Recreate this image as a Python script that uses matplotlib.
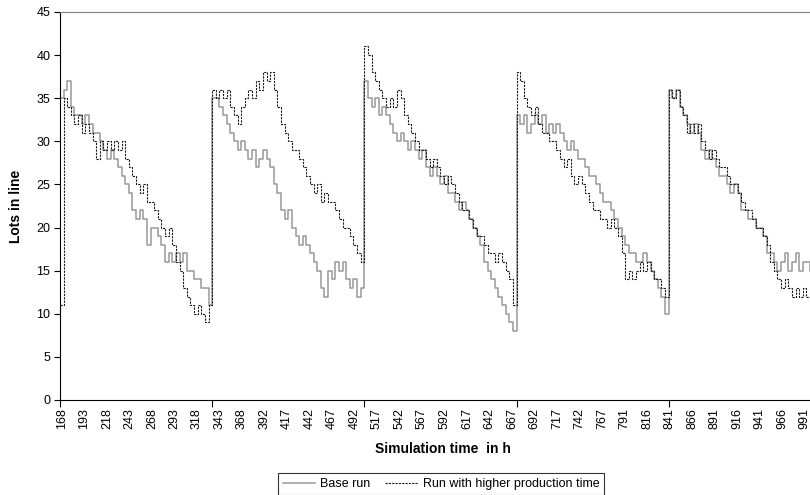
import numpy as np
import matplotlib
matplotlib.use("Agg")
import matplotlib.pyplot as plt

plt.rcParams['font.family'] = ['Liberation Sans', 'DejaVu Sans']

# ---- data (values read every 4 simulation hours, per weekly cycle) ----
step = 4
cycle_starts = [0, 168, 336, 504, 672]   # category index where each weekly cycle begins

base_c1 = [35, 36, 37, 34, 33, 33, 32, 33, 32, 31, 31, 30, 29, 28, 29, 28, 27, 26, 25, 24, 22,
           21, 22, 21, 18, 20, 20, 19, 18, 16, 17, 16, 17, 16, 17, 15, 15, 14, 14, 13, 13, 11]
base_c2 = [35, 35, 34, 33, 32, 31, 30, 29, 30, 29, 28, 29, 27, 28, 29, 28, 27, 25, 24, 22, 21,
           22, 20, 19, 18, 19, 18, 17, 16, 15, 13, 12, 15, 14, 16, 15, 16, 14, 13, 14, 12, 13]
base_c3 = [37, 35, 34, 35, 33, 34, 33, 32, 31, 30, 31, 30, 29, 30, 29, 28, 29, 27, 26, 27, 26,
           25, 26, 24, 24, 23, 22, 23, 22, 21, 20, 19, 18, 16, 15, 14, 13, 12, 11, 10, 9, 8]
base_c4 = [33, 32, 33, 31, 32, 33, 32, 33, 31, 32, 31, 32, 31, 30, 29, 30, 29, 28, 28, 27, 26,
           26, 25, 24, 23, 23, 22, 21, 20, 19, 18, 17, 17, 16, 16, 17, 16, 15, 14, 13, 12, 10]
base_c5 = [36, 35, 36, 34, 33, 32, 31, 32, 31, 29, 28, 29, 28, 27, 26, 26, 25, 24, 25, 24,
           22, 22, 21, 21, 20, 20, 19, 17, 17, 16, 15, 16, 17, 15, 16, 17, 15, 16, 16, 15]

high_c1 = [11, 35, 34, 33, 32, 33, 31, 32, 31, 30, 28, 30, 29, 30, 29, 30, 29, 30, 28, 27, 26,
           25, 24, 25, 23, 23, 22, 21, 20, 19, 20, 18, 16, 15, 13, 12, 11, 10, 11, 10, 9, 11]
high_c2 = [36, 35, 36, 35, 36, 34, 33, 32, 34, 35, 36, 35, 37, 36, 38, 37, 38, 36, 34, 32, 31,
           30, 29, 29, 28, 27, 26, 25, 24, 25, 23, 24, 23, 23, 22, 21, 20, 20, 19, 18, 17, 16]
high_c3 = [41, 40, 38, 37, 36, 35, 34, 35, 34, 36, 35, 33, 32, 31, 30, 29, 29, 28, 27, 28, 27,
           26, 25, 26, 25, 24, 23, 22, 22, 21, 20, 19, 19, 18, 17, 17, 16, 17, 16, 15, 14, 11]
high_c4 = [38, 37, 35, 34, 33, 34, 32, 31, 31, 30, 30, 29, 28, 27, 28, 26, 25, 26, 25, 24, 23,
           22, 22, 21, 21, 20, 21, 20, 19, 17, 14, 15, 14, 15, 16, 15, 16, 15, 14, 14, 13, 12]
high_c5 = [36, 35, 36, 34, 33, 31, 32, 31, 32, 30, 29, 28, 29, 28, 27, 27, 26, 25, 25, 24,
           23, 22, 22, 21, 20, 20, 19, 18, 16, 15, 14, 13, 14, 13, 12, 13, 12, 13, 12, 13]

tick_labels = ['168', '193', '218', '243', '268', '293', '318', '343', '368', '392', '417',
               '442', '467', '492', '517', '542', '567', '592', '617', '642', '667', '692',
               '717', '742', '767', '791', '816', '841', '866', '891', '916', '941', '966', '991']
label_every = 25
week_len = 168
n_categories = 829

series_names = ['Base run', 'Run with higher production time']


def assemble(cycles):
    xs, ys = [], []
    for start, vals in zip(cycle_starts, cycles):
        for k, v in enumerate(vals):
            xs.append(start + k * step)
            ys.append(v)
    return np.array(xs), np.array(ys)


xb, yb = assemble([base_c1, base_c2, base_c3, base_c4, base_c5])
xh, yh = assemble([high_c1, high_c2, high_c3, high_c4, high_c5])

fig = plt.figure(figsize=(8.1, 4.95), dpi=100)
ax = fig.add_axes([60 / 810, 95 / 495, 750 / 810, 388 / 495])

ax.plot(xb, yb, drawstyle='steps-post', color='#999999', lw=1.1, label=series_names[0], zorder=2)
ax.plot(xh, yh, drawstyle='steps-post', color='#1a1a1a', lw=0.8, dashes=(2, 1),
        label=series_names[1], zorder=3)

ax.set_xlim(0, n_categories - 1)
ax.set_ylim(0, 45)
ax.set_yticks(np.arange(0, 46, 5))
ax.tick_params(axis='y', direction='out', length=4, width=0.8, labelsize=9, pad=3, colors='#000000')

# label slots are drawn slightly compressed, as in the source chart
label_pos = 2 + np.arange(len(tick_labels)) * label_every * 0.994
ax.set_xticks(label_pos)
ax.set_xticklabels(tick_labels, rotation=90, fontsize=9)
ax.tick_params(axis='x', which='major', length=0, pad=6)
ax.set_xticks(np.arange(0, n_categories, week_len), minor=True)
ax.tick_params(axis='x', which='minor', direction='out', length=5, width=0.8)

ax.spines['right'].set_visible(False)
ax.spines['top'].set_color('#808080')
ax.spines['top'].set_linewidth(0.8)
ax.spines['left'].set_color('#000000')
ax.spines['left'].set_linewidth(0.8)
ax.spines['bottom'].set_color('#000000')
ax.spines['bottom'].set_linewidth(0.8)

ax.set_xlabel('Simulation time  in h', fontsize=10, fontweight='bold')
ax.xaxis.set_label_coords(0.511, -0.108)
ax.set_ylabel('Lots in line', fontsize=10, fontweight='bold')
ax.yaxis.set_label_coords(-0.05, 0.5)

leg = fig.legend(loc='center', bbox_to_anchor=(441 / 810, 1 - 484 / 495), ncol=2,
                 fontsize=9, frameon=True, fancybox=False, edgecolor='#000000',
                 handlelength=2.6, columnspacing=1.2, handletextpad=0.4, borderpad=0.4)
leg.get_frame().set_linewidth(0.8)

fig.savefig('out.png', dpi=100)
